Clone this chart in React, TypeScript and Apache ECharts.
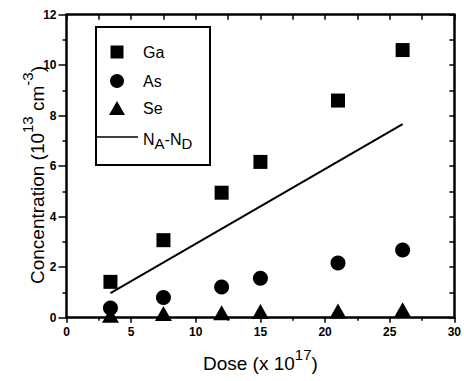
import React, { useEffect, useRef } from "react";
import * as echarts from "echarts";

const doseGa = [3.4, 7.5, 12, 15, 21, 26];
const valGa = [1.42, 3.07, 4.95, 6.17, 8.6, 10.6];
const doseAs = [3.4, 7.5, 12, 15, 21, 26];
const valAs = [0.38, 0.8, 1.22, 1.56, 2.17, 2.68];
const doseSe = [3.4, 7.5, 12, 15, 21, 26];
const valSe = [0.1, 0.17, 0.2, 0.25, 0.27, 0.31];
const lineDose = [3.4, 26];
const lineVal = [0.97, 7.67];

const FONT = "'Liberation Sans', Arial, Helvetica, sans-serif";

export default function App() {
  const ref = useRef<HTMLDivElement>(null);
  useEffect(() => {
    if (!ref.current) return;
    const chart = echarts.init(ref.current, null, { renderer: "svg" });
    const zip = (xs: number[], ys: number[]) => xs.map((x, i) => [x, ys[i]]);
    const black = "#000";
    const lx = 96, ly = 27, lw = 114, lh = 138;
    const symX = 117;
    const textX = 143;
    const axLine = { show: true, onZero: false, lineStyle: { color: black, width: 2.5 } };
    chart.setOption({
      animation: false,
      backgroundColor: "#fff",
      grid: { left: 66.5, right: 5, top: 14.7, bottom: 63.3, containLabel: false },
      xAxis: [
        {
          type: "value", position: "bottom", min: 0, max: 30, interval: 5,
          axisLine: axLine,
          axisTick: { show: true, inside: false, length: 5, lineStyle: { color: black, width: 1.5 } },
          minorTick: { show: true, splitNumber: 2, length: 3, lineStyle: { color: black, width: 1.5 } },
          splitLine: { show: false },
          axisLabel: { color: black, fontFamily: FONT, fontWeight: "bold", fontSize: 12, margin: 8 },
          name: "{m|Dose (x 10}{s|17}{m|)}",
          nameLocation: "middle",
          nameGap: 29,
          nameTextStyle: {
            rich: {
              m: { fontFamily: FONT, fontSize: 19, color: black, lineHeight: 34 },
              s: { fontFamily: FONT, fontSize: 15, color: black, lineHeight: 12, verticalAlign: "top" },
            },
          },
        },
        {
          type: "value", position: "top", min: 0, max: 30, interval: 2.5,
          axisLine: axLine,
          axisTick: { show: true, inside: true, length: 5, lineStyle: { color: black, width: 1.5 } },
          splitLine: { show: false },
          axisLabel: { show: false },
        },
      ],
      yAxis: [
        {
          type: "value", position: "left", min: 0, max: 12, interval: 2,
          axisLine: axLine,
          axisTick: { show: true, inside: false, length: 8, lineStyle: { color: black, width: 1.5 } },
          minorTick: { show: true, splitNumber: 2, length: 4, lineStyle: { color: black, width: 1.5 } },
          splitLine: { show: false },
          axisLabel: { color: black, fontFamily: FONT, fontWeight: "bold", fontSize: 12, margin: 10 },
        },
        {
          type: "value", position: "right", min: 0, max: 12, interval: 1,
          axisLine: axLine,
          axisTick: { show: true, inside: true, length: 5, lineStyle: { color: black, width: 1.5 } },
          splitLine: { show: false },
          axisLabel: { show: false },
        },
      ],
      series: [
        {
          name: "NA-ND", type: "line", xAxisIndex: 0, yAxisIndex: 0,
          data: zip(lineDose, lineVal), showSymbol: false, symbol: "none",
          lineStyle: { color: black, width: 2 }, z: 2,
        },
        {
          name: "Ga", type: "scatter", xAxisIndex: 0, yAxisIndex: 0,
          data: zip(doseGa, valGa), symbol: "rect", symbolSize: 14,
          itemStyle: { color: black, opacity: 1 }, z: 3,
        },
        {
          name: "As", type: "scatter", xAxisIndex: 0, yAxisIndex: 0,
          data: zip(doseAs, valAs), symbol: "circle", symbolSize: 15,
          itemStyle: { color: black, opacity: 1 }, z: 3,
        },
        {
          name: "Se", type: "scatter", xAxisIndex: 0, yAxisIndex: 0,
          data: zip(doseSe, valSe), symbol: "triangle", symbolSize: [17, 15],
          itemStyle: { color: black, opacity: 1 }, z: 3,
        },
      ],
      graphic: [
        {
          type: "text", x: 37, y: 175, rotation: Math.PI / 2,
          style: {
            text: "{m|Concentration (10}{s|13}{m| cm}{s|-3}{m|)}",
            align: "center", verticalAlign: "middle",
            rich: {
              m: { fontFamily: FONT, fontSize: 19, fill: black, lineHeight: 34 },
              s: { fontFamily: FONT, fontSize: 15, fill: black, lineHeight: 12, verticalAlign: "top" },
            },
          },
        },
        {
          type: "rect", shape: { x: lx, y: ly, width: lw, height: lh },
          style: { fill: "#fff", stroke: black, lineWidth: 2 }, z: 10,
        },
        {
          type: "rect", shape: { x: symX - 6.5, y: 52 - 6.5, width: 13, height: 13 },
          style: { fill: black }, z: 11,
        },
        {
          type: "circle", shape: { cx: symX, cy: 81, r: 7 },
          style: { fill: black }, z: 11,
        },
        {
          type: "polygon", shape: { points: [[symX, 101], [symX + 8, 115], [symX - 8, 115]] },
          style: { fill: black }, z: 11,
        },
        {
          type: "line", shape: { x1: lx, y1: 137, x2: 138, y2: 137 },
          style: { stroke: black, lineWidth: 1.5 }, z: 11,
        },
        {
          type: "text", x: textX, y: 52, z: 11,
          style: { text: "Ga", fontFamily: FONT, fontSize: 16, fill: black, verticalAlign: "middle" },
        },
        {
          type: "text", x: textX, y: 81, z: 11,
          style: { text: "As", fontFamily: FONT, fontSize: 16, fill: black, verticalAlign: "middle" },
        },
        {
          type: "text", x: textX, y: 108, z: 11,
          style: { text: "Se", fontFamily: FONT, fontSize: 16, fill: black, verticalAlign: "middle" },
        },
        {
          type: "text", x: textX, y: 139, z: 11,
          style: {
            text: "{m|N}{b|A}{m|-N}{b|D}",
            verticalAlign: "middle",
            rich: {
              m: { fontFamily: FONT, fontSize: 16, fill: black, lineHeight: 24 },
              b: { fontFamily: FONT, fontSize: 15, fill: black, lineHeight: 14, verticalAlign: "bottom" },
            },
          },
        },
      ],
    });
    return () => chart.dispose();
  }, []);
  return (
    <div
      ref={ref}
      style={{ position: "absolute", left: 0, top: 0, width: 464, height: 381 }}
    />
  );
}
